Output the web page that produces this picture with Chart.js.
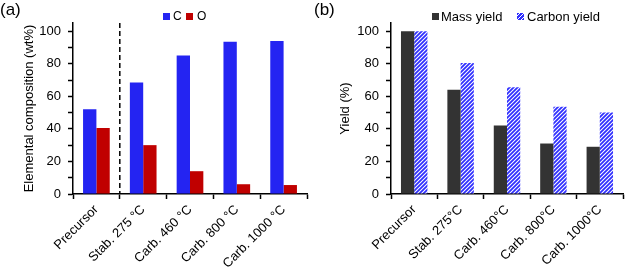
<!DOCTYPE html>
<html>
<head>
<meta charset="utf-8">
<script src="https://cdn.jsdelivr.net/npm/chart.js@4.4.1/dist/chart.umd.min.js"></script>
<style>
  body { margin: 0; background: #fff; font-family: "Liberation Sans", Arial, sans-serif; color: #000; }
  #wrap { position: relative; width: 627px; height: 269px; overflow: hidden; }
  canvas { position: absolute; top: 0; }
  .lbl { position: absolute; white-space: nowrap; }
  .panel { font-size: 17px; line-height: 17px; top: 1px; }
  .sw { position: absolute; width: 7px; height: 7px; }
</style>
</head>
<body>
<div id="wrap">
  <canvas id="compChart" width="313" height="269" style="left:0"></canvas>
  <canvas id="yieldChart" width="314" height="269" style="left:313px"></canvas>

  <div class="lbl panel" style="left:0">(a)</div>
  <div class="lbl panel" style="left:314px">(b)</div>

  <!-- legend (a) -->
  <div class="sw" style="left:163px;top:13px;background:#2424f2"></div>
  <div class="lbl" style="left:173px;top:10px;font-size:12px;line-height:12px">C</div>
  <div class="sw" style="left:186px;top:13px;background:#c00000"></div>
  <div class="lbl" style="left:197px;top:10px;font-size:12px;line-height:12px">O</div>

  <!-- legend (b) -->
  <div class="sw" style="left:432px;top:13px;background:#333"></div>
  <div class="lbl" style="left:441px;top:9.5px;font-size:13px;line-height:13px">Mass yield</div>
  <div class="sw" style="left:517px;top:13px;background:repeating-linear-gradient(-45deg,#2f2fff 0 1.6px,#fff 1.6px 2.8px)"></div>
  <div class="lbl" style="left:527px;top:9.5px;font-size:13px;line-height:13px">Carbon yield</div>
</div>

<script>
// ---- data ----
const compLabels = ["Precursor", "Stab. 275 °C", "Carb. 460 °C", "Carb. 800 °C", "Carb. 1000 °C"];
const carbonWt = [52, 68.5, 85, 93.5, 94];
const oxygenWt = [40.5, 30, 14, 6, 5.5];

const yieldLabels = ["Precursor", "Stab. 275°C", "Carb. 460°C", "Carb. 800°C", "Carb. 1000°C"];
const massYield = [100, 64, 42, 31, 29];
const carbonYield = [100, 80.5, 65.5, 53.5, 50];

// y ticks: marks every 10, labels every 20
const yTickValues = [0, 10, 20, 30, 40, 50, 60, 70, 80, 90, 100];

Chart.defaults.font.family = '"Liberation Sans", Arial, sans-serif';
Chart.defaults.font.size = 13;
Chart.defaults.color = "#000";

// hatched fill for carbon yield
function makeHatch() {
  const pc = document.createElement("canvas");
  pc.width = 4;
  pc.height = 4;
  const p = pc.getContext("2d");
  p.fillStyle = "#fff";
  p.fillRect(0, 0, 4, 4);
  p.strokeStyle = "#2f2fff";
  p.lineWidth = 1.8;
  p.beginPath();
  p.moveTo(-1, 1); p.lineTo(1, -1);
  p.moveTo(0, 4); p.lineTo(4, 0);
  p.moveTo(3, 5); p.lineTo(5, 3);
  p.stroke();
  return document.getElementById("yieldChart").getContext("2d").createPattern(pc, "repeat");
}

// dashed line between Precursor and Stab.
const dividerPlugin = {
  id: "divider",
  afterDatasetsDraw(chart) {
    const { ctx, chartArea, scales } = chart;
    const x = (scales.x.getPixelForValue(0) + scales.x.getPixelForValue(1)) / 2;
    ctx.save();
    ctx.setLineDash([5, 3]);
    ctx.lineWidth = 1.5;
    ctx.strokeStyle = "#000";
    ctx.beginPath();
    ctx.moveTo(x, chartArea.top);
    ctx.lineTo(x, chartArea.bottom);
    ctx.stroke();
    ctx.restore();
  },
};

function axes(yWidth, yTitle, titlePad) {
  return {
    x: {
      afterFit: (s) => { s.height = 75; },
      border: { color: "#000", width: 1.5 },
      grid: { drawOnChartArea: false, tickLength: 5, tickColor: "#000", tickWidth: 1.5, offset: true },
      ticks: { minRotation: 45, maxRotation: 45, padding: 3, autoSkip: false },
    },
    y: {
      min: 0,
      max: 105,
      afterFit: (s) => { s.width = yWidth; },
      afterBuildTicks: (s) => { s.ticks = yTickValues.map((v) => ({ value: v })); },
      border: { color: "#000", width: 1.5 },
      grid: { drawOnChartArea: false, tickLength: 5, tickColor: "#000", tickWidth: 1.5 },
      ticks: {
        padding: 7,
        autoSkip: false,
        callback: (v) => (v % 20 === 0 ? v : ""),
      },
      title: { display: true, text: yTitle, padding: { top: titlePad, bottom: 0 } },
    },
  };
}

new Chart(document.getElementById("compChart"), {
  type: "bar",
  data: {
    labels: compLabels,
    datasets: [
      { label: "C", data: carbonWt, backgroundColor: "#2424f2" },
      { label: "O", data: oxygenWt, backgroundColor: "#c00000" },
    ],
  },
  options: {
    responsive: false,
    animation: false,
    layout: { padding: { top: 23, right: 6, bottom: 0, left: 0 } },
    datasets: { bar: { categoryPercentage: 0.57, barPercentage: 1 } },
    plugins: { legend: { display: false }, tooltip: { enabled: false } },
    scales: axes(73, "Elemental composition (wt%)", 22),
  },
  plugins: [dividerPlugin],
});

new Chart(document.getElementById("yieldChart"), {
  type: "bar",
  data: {
    labels: yieldLabels,
    datasets: [
      { label: "Mass yield", data: massYield, backgroundColor: "#333333" },
      { label: "Carbon yield", data: carbonYield, backgroundColor: makeHatch() },
    ],
  },
  options: {
    responsive: false,
    animation: false,
    layout: { padding: { top: 23, right: 4, bottom: 0, left: 0 } },
    datasets: { bar: { categoryPercentage: 0.57, barPercentage: 1 } },
    plugins: { legend: { display: false }, tooltip: { enabled: false } },
    scales: axes(78, "Yield (%)", 25),
  },
});
</script>
</body>
</html>
